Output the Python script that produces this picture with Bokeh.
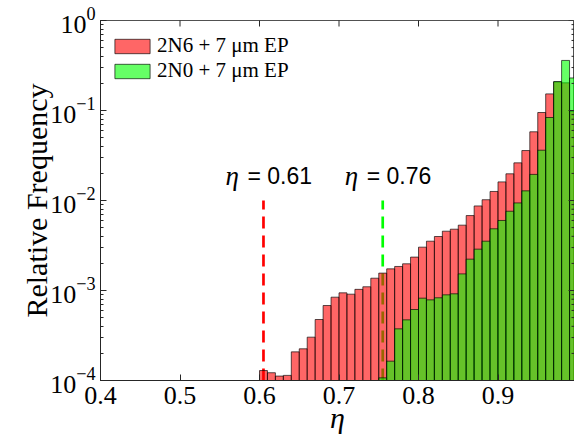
import numpy as np
from bokeh.plotting import figure
from bokeh.models import (Range1d, Legend, LegendItem, ColumnDataSource, FixedTicker, LogTicker)
from bokeh.core.properties import value
from bokeh.embed import file_html
from bokeh.resources import INLINE

# ---------------- data ----------------
bin_width = 0.01
red_left = [round(0.59 + 0.01 * i, 2) for i in range(41)]
red_freq = [1.0e-4, 1.29e-4, 1.22e-4, 1.12e-4, 1.14e-4, 2.08e-4, 2.25e-4, 3.03e-4,
            4.76e-4, 6.81e-4, 8.43e-4, 9.42e-4, 9.1e-4, 1.03e-3, 1.10e-3, 1.37e-3,
            1.56e-3, 1.74e-3, 1.85e-3, 1.98e-3, 2.35e-3, 3.03e-3, 3.53e-3, 3.98e-3,
            4.56e-3, 4.8e-3, 5.32e-3, 6.8e-3, 8.7e-3, 1.02e-2, 1.26e-2, 1.61e-2,
            1.98e-2, 2.62e-2, 3.59e-2, 5.8e-2, 9.5e-2, 0.153, 0.207, 0.203, 0.0975]
green_left = [round(0.75 + 0.01 * i, 2) for i in range(25)]
green_freq = [1.07e-4, 1.64e-4, 3.75e-4, 4.72e-4, 6.15e-4, 8.22e-4, 7.87e-4, 8.3e-4,
              8.95e-4, 9.19e-4, 1.53e-3, 2.23e-3, 2.88e-3, 3.53e-3, 4.85e-3, 6.0e-3,
              7.6e-3, 9.4e-3, 1.28e-2, 1.95e-2, 3.62e-2, 8.36e-2, 0.21, 0.36, 0.23]
series_names = ["2N6 + 7 \u03bcm EP", "2N0 + 7 \u03bcm EP"]
thr_x = [0.605, 0.755]
thr_top = [1e-2, 1e-2]
thr_text = ["= 0.61", "= 0.76"]
x_ticks = [0.4, 0.5, 0.6, 0.7, 0.8, 0.9, 1.0]
y_decades = [1e-4, 1e-3, 1e-2, 1e-1, 1.0]
y_min, y_max = 1e-4, 1.0

# ---------------- figure ----------------
x_end = 0.4 + 474.0 / 795.0
p = figure(width=574, height=442, x_range=Range1d(0.4, x_end),
           y_range=Range1d(y_min, y_max), y_axis_type="log",
           output_backend="svg", toolbar_location=None,
           min_border_left=100, min_border_right=0, min_border_top=20,
           min_border_bottom=62)
p.xgrid.visible = False
p.ygrid.visible = False
p.background_fill_color = "white"
p.border_fill_color = "white"
p.outline_line_color = "#262626"
p.outline_line_alpha = 0.8

axis_color = "#262626"
serif = "Liberation Serif"

# threshold dashed lines (below bars)
p.segment(x0=thr_x, y0=[y_min] * 2, x1=thr_x, y1=thr_top,
          line_color=["#ff0000", "#00ff00"], line_width=2.7, line_dash="12 7")

red_src = ColumnDataSource(dict(left=red_left,
                                right=[l + bin_width for l in red_left],
                                top=red_freq, bottom=[y_min] * len(red_left)))
green_src = ColumnDataSource(dict(left=green_left,
                                  right=[l + bin_width for l in green_left],
                                  top=green_freq, bottom=[y_min] * len(green_left)))
r_red = p.quad(left="left", right="right", top="top", bottom="bottom", source=red_src,
               fill_color="#ff0000", fill_alpha=0.6, line_color="black",
               line_alpha=0.65, line_width=1)
r_green = p.quad(left="left", right="right", top="top", bottom="bottom", source=green_src,
                 fill_color="#00ff00", fill_alpha=0.6, line_color="black",
                 line_alpha=0.65, line_width=1)

# threshold labels
lab_y = [0.0185, 0.0185]
p.text(x=thr_x, y=lab_y, text=["\u03b7", "\u03b7"], x_offset=-38,
       text_font=value(serif), text_font_style="italic", text_font_size="27px",
       text_baseline="middle", text_align="left", text_color="black")
p.text(x=thr_x, y=lab_y, text=thr_text, x_offset=-16,
       text_font=value("Liberation Sans"), text_font_size="23px",
       text_baseline="middle", text_align="left", text_color="black")

# ticks on the top and right edges of the box (clipped to the frame)
p.scatter(x=x_ticks, y=[y_max] * len(x_ticks), marker="dash", angle=np.pi / 2,
          size=12, line_color=axis_color, line_width=1)
minor_y = [k * d for d in y_decades[:-1] for k in range(2, 10)]
p.scatter(x=[x_end] * len(y_decades), y=y_decades, marker="dash", size=12,
          line_color=axis_color, line_width=1)
p.scatter(x=[x_end] * len(minor_y), y=minor_y, marker="dash", size=6,
          line_color=axis_color, line_width=1)

# legend
legend = Legend(items=[LegendItem(label=series_names[0], renderers=[r_red]),
                       LegendItem(label=series_names[1], renderers=[r_green])],
                location=(10, 297), margin=0, padding=0, spacing=0,
                glyph_width=44, glyph_height=18, label_height=24, label_standoff=3,
                label_text_font=serif, label_text_font_size="21px",
                label_text_color="black",
                border_line_alpha=0, background_fill_alpha=0)
p.add_layout(legend)

# axes styling
xa = p.xaxis[0]
xa.ticker = FixedTicker(ticks=x_ticks)
xa.axis_label = "\u03b7"
ya = p.yaxis[0]
ya.ticker = LogTicker(num_minor_ticks=10)
ya.axis_label = "Relative Frequency"
for ax in (xa, ya):
    ax.axis_line_color = axis_color
    ax.major_tick_line_color = axis_color
    ax.minor_tick_line_color = axis_color
    ax.major_tick_in = 6
    ax.major_tick_out = 0
    ax.minor_tick_in = 3
    ax.minor_tick_out = 0
    ax.major_label_text_font = serif
    ax.major_label_text_font_size = "26px"
    ax.major_label_text_color = "black"
    ax.axis_label_text_font = serif
    ax.axis_label_text_font_size = "30px"
    ax.axis_label_text_color = "black"
xa.axis_label_text_font_style = "italic"
xa.axis_label_standoff = -6
ya.axis_label_text_font_style = "normal"
ya.axis_label_standoff = -6
xa.major_label_standoff = 6
ya.major_label_standoff = 5

open("out.html", "w").write(file_html(p, INLINE))
